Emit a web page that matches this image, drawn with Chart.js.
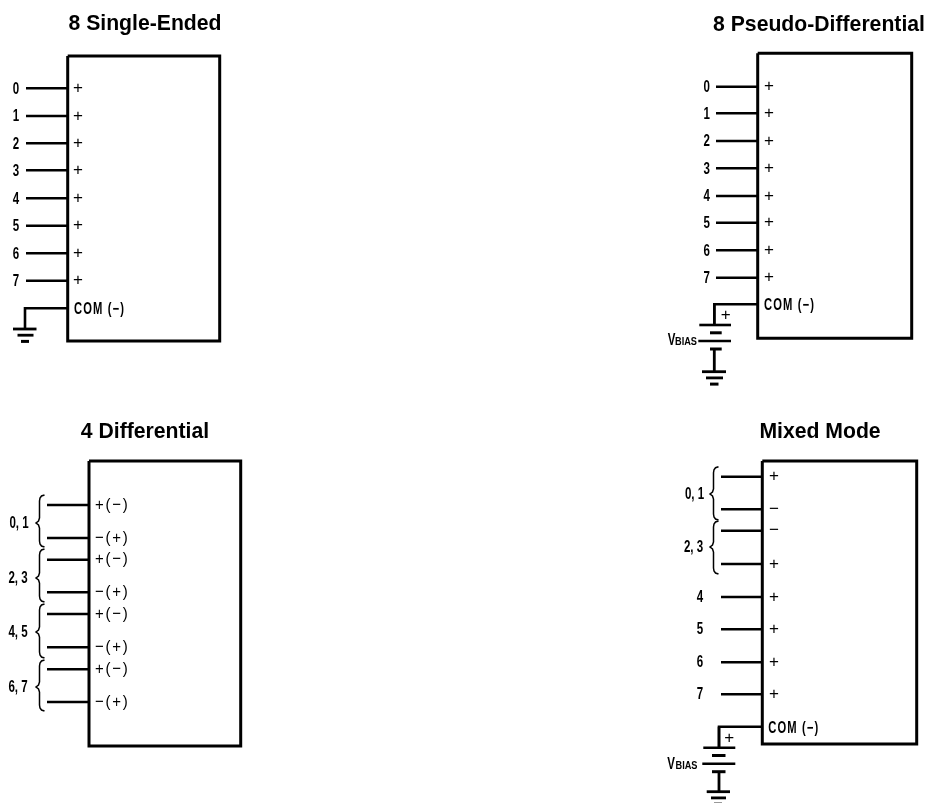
<!DOCTYPE html>
<html><head><meta charset="utf-8">
<style>html,body{margin:0;padding:0;background:#fff;overflow:hidden}canvas{display:block}</style>
<script src="https://cdn.jsdelivr.net/npm/chart.js@4"></script>
</head><body><canvas id="c" width="927" height="803"></canvas>
<script>
// Titles: [text, x, y]
const titles = [["8 Single-Ended",145,24.5],["8 Pseudo-Differential",819,25.5],["4 Differential",145,432],["Mixed Mode",820,432]];
const channelNames = ["0","1","2","3","4","5","6","7"];
// Input wire heights in each panel
const singleWires = [88.3,116,143.3,170.3,198.3,225.7,253.3,280.7];
const pseudoWires = [86.7,113.3,141,168.3,196,222.7,250.3,277.7];
const diffWires = [505,538,559.7,592.3,614,647.3,669.3,702];
const mixedWires = [476.7,509.3,530.7,564,597,629.3,662.3,694.3];
// Pin polarity marks
const diffMarks = ["+(−)","−(+)","+(−)","−(+)","+(−)","−(+)","+(−)","−(+)"];
const mixedMarks = ["+","−","−","+","+","+","+","+"];
// Brace groups [top, tip, bottom, label, labelX]
const diffGroups = [[495,523,547,"0, 1",19],[549,578,602,"2, 3",18],[604,632,658,"4, 5",18],[660,687,711,"6, 7",18]];
const mixedGroups = [[466.7,494,520,"0, 1",694.5],[521,547,574,"2, 3",693.5]];
// Boxes [left, top, right, bottom]
const boxes = [[67.7,56,219.7,341],[757.7,53.3,911.7,338.3],[89,461,240.7,746],[762.3,461,916.7,744]];

const paths=[], texts=[];
const seg=(pts,w)=>paths.push({pts,w:w||2.6});
const ln=(x1,y1,x2,y2,w)=>seg([{x:x1,y:y1},{x:x2,y:y2}],w);
const txt=(t,x,y,k,a)=>texts.push({t,x,y,k:k||"label",a:a||"center"});

boxes.forEach(b=>seg([{x:b[0],y:b[1]},{x:b[2],y:b[1]},{x:b[2],y:b[3]},{x:b[0],y:b[3]},{x:b[0],y:b[1]}],3));
function wires(ys,x1,x2){ys.forEach(y=>ln(x1,y,x2,y));}
function ground(y,a,b,c){
  ln(a[0],y,a[1],y,2.8);ln(b[0],y+6.2,b[1],y+6.2,2.8);ln(c[0],y+12.4,c[1],y+12.4,3);
}
function brace(x,top,tip,bot){
  seg([{x:x+5,y:top},{x:x+2,y:top+1},{x:x+0.5,y:top+3},{x:x,y:top+6},{x:x,y:tip-5},{x:x-1,y:tip-2},{x:x-3.5,y:tip},
       {x:x-1,y:tip+2},{x:x,y:tip+5},{x:x,y:bot-6},{x:x+0.5,y:bot-3},{x:x+2,y:bot-1},{x:x+5,y:bot}],1.5);
}
function battery(x,yc,y0,l,s,yEnd){
  ln(x,yc,x,y0);
  ln(l[0],y0,l[1],y0,2.6);ln(s[0],y0+7.8,s[1],y0+7.8,3);
  ln(l[0]-1,y0+16,l[1],y0+16,2.6);ln(s[0],y0+24,s[1],y0+24,3);
  ln(x,y0+24,x,yEnd,2.8);
}

// Single-ended
wires(singleWires,26,68);
singleWires.forEach((y,i)=>{txt(channelNames[i],16,y+1);txt("+",78,y,"mark");});
seg([{x:68,y:308.3},{x:25,y:308.3},{x:25,y:329}]);
ground(329,[13,36.5],[17.5,33.5],[21,29]);
txt("COM (−)",74,309.5,"com","left");

// Pseudo-differential
wires(pseudoWires,716,758);
pseudoWires.forEach((y,i)=>{txt(channelNames[i],706.7,y+1);txt("+",769,y,"mark");});
seg([{x:758,y:304.3},{x:714.3,y:304.3},{x:714.3,y:325}]);
battery(714.3,304.3,325,[699.3,731],[710,721.7],371.7);
ground(371.7,[702,726],[706,723],[710,718.5]);
txt("+",725.7,315.5,"mark");
txt("COM (−)",764,305.5,"com","left");
txt("V",671.5,340.5,"label");txt("BIAS",686,341.5,"small");

// Differential
wires(diffWires,47,89);
diffWires.forEach((y,i)=>txt(diffMarks[i],95,y,"pair","left"));
diffGroups.forEach(g=>{brace(39.5,g[0],g[1],g[2]);txt(g[3],g[4],g[1]+0.5,"label");});

// Mixed
wires(mixedWires,721,762);
mixedWires.forEach((y,i)=>txt(mixedMarks[i],774,y,"mark"));
mixedGroups.forEach(g=>{brace(713.5,g[0],g[1],g[2]);txt(g[3],g[4],g[1]+0.5,"label");});
channelNames.slice(4).forEach((n,i)=>txt(n,700,mixedWires[i+4]+0.5));
seg([{x:762,y:726.7},{x:719,y:726.7},{x:719,y:747.7}]);
battery(719,726.7,747.7,[703.3,735.3],[712,725.5],791.7);
ground(791.7,[706.7,730],[711,726],[714,722]);
txt("+",729.3,738,"mark");
txt("COM (−)",768.3,728.5,"com","left");
txt("V",671,764.5,"label");txt("BIAS",686.5,765.5,"small");

titles.forEach(t=>txt(t[0],t[1],t[2],"title"));

const textStyles={
  title:{font:'bold 21.2px "Liberation Sans"',sx:1,sp:"0px"},
  label:{font:'bold 16px "Liberation Sans"',sx:0.72,sp:"0px"},
  com:{font:'bold 16px "Liberation Sans"',sx:0.7,sp:"1.6px"},
  small:{font:'bold 11.5px "Liberation Sans"',sx:0.8,sp:"0px"},
  mark:{font:'17px "Liberation Sans"',sx:1,sp:"0px"},
  pair:{font:'17px "Liberation Sans"',sx:0.88,sp:"2px"}
};
const textPlugin={id:"schematicText",afterDatasetsDraw(chart){
  const {ctx,scales:{x,y}}=chart;
  texts.forEach(o=>{const s=textStyles[o.k];ctx.save();ctx.fillStyle="#000";ctx.textBaseline="middle";
    ctx.font=s.font;ctx.textAlign=o.a;ctx.letterSpacing=s.sp;
    ctx.translate(x.getPixelForValue(o.x),y.getPixelForValue(o.y));ctx.scale(s.sx,1);
    ctx.fillText(o.t,0,0);ctx.restore();});
}};

new Chart(document.getElementById("c"),{
  type:"scatter",
  data:{datasets:paths.map(s=>({data:s.pts,showLine:true,borderColor:"#000",borderWidth:s.w,
    pointRadius:0,fill:false,borderCapStyle:"butt",borderJoinStyle:"miter",tension:0,clip:false}))},
  options:{responsive:false,animation:false,devicePixelRatio:1,
    layout:{padding:0},
    plugins:{legend:{display:false},tooltip:{enabled:false},title:{display:false}},
    scales:{x:{type:"linear",min:0,max:927,display:false},y:{type:"linear",min:0,max:803,reverse:true,display:false}}},
  plugins:[textPlugin]
});
</script></body></html>
